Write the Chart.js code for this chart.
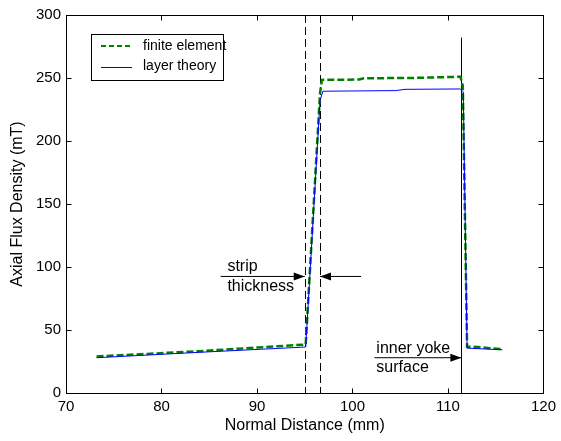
<!DOCTYPE html>
<html>
<head>
<meta charset="utf-8">
<script src="https://cdn.jsdelivr.net/npm/chart.js@4.4.0/dist/chart.umd.min.js"></script>
<style>
  html, body { margin: 0; padding: 0; background: #fff; }
</style>
</head>
<body>
<canvas id="myChart" width="561" height="441"></canvas>
<script>
// finite element (green dashed)
const feX = [73.2, 84, 95.1, 96.6, 96.8, 100.7, 101.2, 106, 111.3, 111.55, 112.0, 112.6, 115.7];
const feY = [29, 33.2, 38.5, 238, 248.5, 248.8, 249.8, 250, 251, 244, 36.8, 36.8, 34.8];
// layer theory (blue)
const ltX = [73.2, 84, 95.1, 96.6, 96.9, 104.5, 105.5, 111.3, 111.6, 112.0, 115.7];
const ltY = [28, 32.3, 36.5, 232, 239.5, 240, 241, 241.3, 239, 35.6, 34.3];

const xTicks = [70, 80, 90, 100, 110, 120];
const yTicks = [0, 50, 100, 150, 200, 250, 300];

const stripEdges = [95.0, 96.6];
const yokeSurface = 111.4;
const yokeLineTop = 282;

const FONT = "'Liberation Sans', Arial, sans-serif";
Chart.defaults.font.family = FONT;
Chart.defaults.color = '#000';

function pts(xs, ys) {
  return xs.map((x, i) => ({ x: x, y: ys[i] }));
}

function arrow(c, x1, y, x2) {
  // line from x1 to x2, filled head at x2
  const dir = x2 > x1 ? 1 : -1;
  c.beginPath();
  c.moveTo(x1, y);
  c.lineTo(x2, y);
  c.stroke();
  c.beginPath();
  c.moveTo(x2, y);
  c.lineTo(x2 - dir * 11, y - 4);
  c.lineTo(x2 - dir * 11, y + 4);
  c.closePath();
  c.fill();
}

const decor = {
  id: 'decor',
  beforeDatasetsDraw(chart) {
    const c = chart.ctx, xs = chart.scales.x, ys = chart.scales.y;
    c.save();
    c.strokeStyle = '#000';
    c.lineWidth = 1;
    c.setLineDash([8, 4]);
    stripEdges.forEach(v => {
      const px = Math.round(xs.getPixelForValue(v)) + 0.5;
      c.beginPath();
      c.moveTo(px, ys.getPixelForValue(300));
      c.lineTo(px, ys.getPixelForValue(0));
      c.stroke();
    });
    c.setLineDash([]);
    const py = Math.round(xs.getPixelForValue(yokeSurface)) + 0.5;
    c.beginPath();
    c.moveTo(py, ys.getPixelForValue(yokeLineTop));
    c.lineTo(py, ys.getPixelForValue(0));
    c.stroke();
    c.restore();
  },
  afterDatasetsDraw(chart) {
    const c = chart.ctx, a = chart.chartArea;
    const xs = chart.scales.x, ys = chart.scales.y;
    c.save();
    c.strokeStyle = '#000';
    c.fillStyle = '#000';
    c.lineWidth = 1;

    // box and inner ticks
    const L = Math.round(a.left) + 0.5, R = Math.round(a.right) + 0.5;
    const T = Math.round(a.top) + 0.5, B = Math.round(a.bottom) + 0.5;
    c.strokeRect(L, T, R - L, B - T);
    c.beginPath();
    xTicks.forEach(v => {
      const px = Math.round(xs.getPixelForValue(v)) + 0.5;
      c.moveTo(px, B); c.lineTo(px, B - 5);
      c.moveTo(px, T); c.lineTo(px, T + 5);
    });
    yTicks.forEach(v => {
      const py = Math.round(ys.getPixelForValue(v)) + 0.5;
      c.moveTo(L, py); c.lineTo(L + 5, py);
      c.moveTo(R, py); c.lineTo(R - 5, py);
    });
    c.stroke();

    // annotations
    c.font = '16px ' + FONT;
    c.textAlign = 'left';
    c.textBaseline = 'middle';
    const ay = ys.getPixelForValue(92.5);
    c.fillText('strip', xs.getPixelForValue(86.9), ys.getPixelForValue(100.5));
    c.fillText('thickness', xs.getPixelForValue(86.9), ys.getPixelForValue(84.5));
    arrow(c, xs.getPixelForValue(86.2), ay, xs.getPixelForValue(stripEdges[0]));
    arrow(c, xs.getPixelForValue(100.9), ay, xs.getPixelForValue(stripEdges[1]));

    const by = ys.getPixelForValue(28);
    c.fillText('inner yoke', xs.getPixelForValue(102.5), ys.getPixelForValue(35));
    c.fillText('surface', xs.getPixelForValue(102.5), ys.getPixelForValue(20.5));
    arrow(c, xs.getPixelForValue(102.3), by, xs.getPixelForValue(yokeSurface));

    // legend
    const lx = a.left + 25, ly = a.top + 19, lw = 132, lh = 46;
    c.fillStyle = '#fff';
    c.fillRect(lx, ly, lw, lh);
    c.strokeRect(Math.round(lx) + 0.5, Math.round(ly) + 0.5, lw, lh);
    c.lineWidth = 2;
    c.strokeStyle = '#008000';
    c.setLineDash([5, 3]);
    c.beginPath();
    c.moveTo(lx + 10, ly + 12); c.lineTo(lx + 41, ly + 12);
    c.stroke();
    c.setLineDash([]);
    c.lineWidth = 1;
    c.strokeStyle = '#0000ff';
    c.beginPath();
    c.moveTo(lx + 10, ly + 33.5); c.lineTo(lx + 41, ly + 33.5);
    c.stroke();
    c.fillStyle = '#000';
    c.font = '14px ' + FONT;
    c.fillText('finite element', lx + 52, ly + 12);
    c.fillText('layer theory', lx + 52, ly + 32);
    c.restore();
  }
};

const ctx = document.getElementById('myChart').getContext('2d');
const myChart = new Chart(ctx, {
  type: 'line',
  data: {
    datasets: [
      {
        label: 'layer theory',
        data: pts(ltX, ltY),
        borderColor: '#0000ff',
        borderWidth: 1,
        pointRadius: 0,
        fill: false,
        tension: 0
      },
      {
        label: 'finite element',
        data: pts(feX, feY),
        borderColor: '#008000',
        borderWidth: 2.5,
        borderDash: [7, 3],
        pointRadius: 0,
        fill: false,
        tension: 0
      }
    ]
  },
  options: {
    responsive: false,
    animation: false,
    devicePixelRatio: 1,
    layout: { padding: { top: 15, right: 14, left: 0, bottom: 0 } },
    plugins: { legend: { display: false }, tooltip: { enabled: false } },
    scales: {
      x: {
        type: 'linear',
        min: 70,
        max: 120,
        afterFit(s) { s.height = 48; },
        afterBuildTicks(s) { s.ticks = xTicks.map(v => ({ value: v })); },
        grid: { display: false, drawTicks: false },
        border: { display: false },
        ticks: { padding: 5, font: { size: 15 }, color: '#000', maxRotation: 0 },
        title: { display: true, text: 'Normal Distance (mm)', font: { size: 16 }, color: '#000', padding: { bottom: 6 } }
      },
      y: {
        type: 'linear',
        min: 0,
        max: 300,
        afterFit(s) { s.width = 66; },
        afterBuildTicks(s) { s.ticks = yTicks.map(v => ({ value: v })); },
        grid: { display: false, drawTicks: false },
        border: { display: false },
        ticks: { padding: 5, font: { size: 15 }, color: '#000' },
        title: { display: true, text: 'Axial Flux Density (mT)', font: { size: 16 }, color: '#000', padding: { top: 8 } }
      }
    }
  },
  plugins: [decor]
});
</script>
</body>
</html>
